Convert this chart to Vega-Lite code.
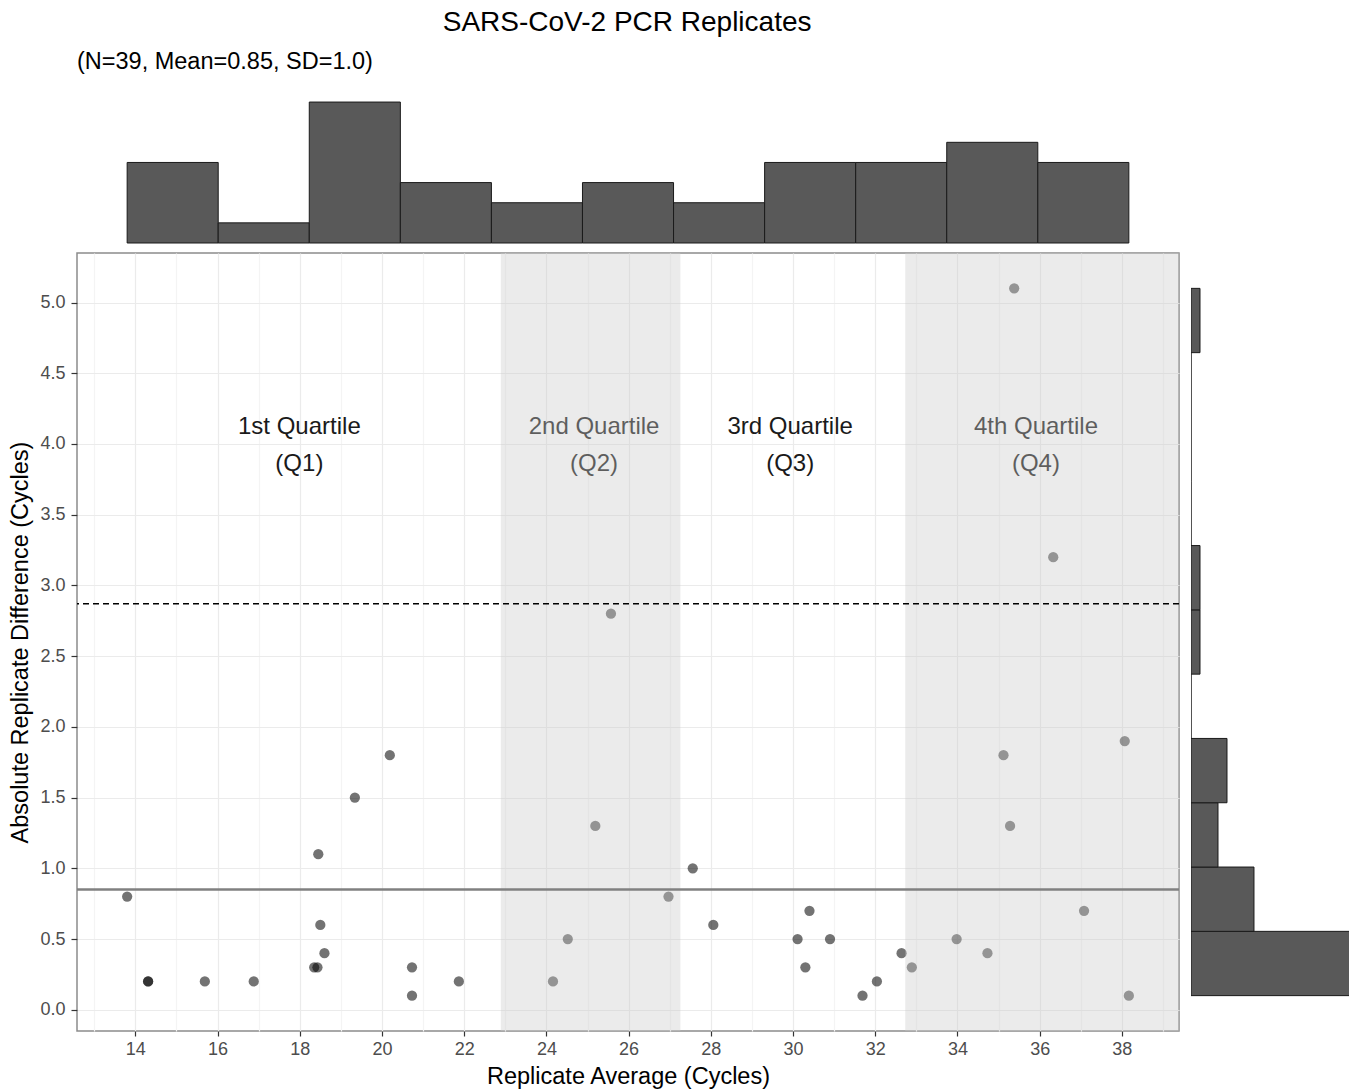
{
  "$schema": "https://vega.github.io/schema/vega-lite/v6.json",
  "padding": {"left": 7, "top": 8, "right": 0, "bottom": 0},
  "background": "white",
  "title": {"text": "SARS-CoV-2 PCR Replicates", "anchor": "middle", "fontSize": 28, "fontWeight": "normal", "color": "#000000", "offset": 13, "dx": -51},
  "config": {
    "font": "Liberation Sans",
    "view": {"stroke": null},
    "title": {"font": "Liberation Sans", "fontWeight": "normal", "color": "#000000"},
    "axis": {"labelFont": "Liberation Sans", "titleFont": "Liberation Sans", "titleFontWeight": "normal"}
  },
  "datasets": {
    "points": [
      {"x": 13.8, "y": 0.8}, {"x": 14.31, "y": 0.2}, {"x": 14.31, "y": 0.2}, {"x": 15.69, "y": 0.2},
      {"x": 16.88, "y": 0.2}, {"x": 18.35, "y": 0.3}, {"x": 18.43, "y": 0.3}, {"x": 18.45, "y": 1.1},
      {"x": 18.5, "y": 0.6}, {"x": 18.6, "y": 0.4}, {"x": 19.34, "y": 1.5}, {"x": 20.19, "y": 1.8},
      {"x": 20.73, "y": 0.3}, {"x": 20.73, "y": 0.1}, {"x": 21.87, "y": 0.2}, {"x": 24.16, "y": 0.2},
      {"x": 24.52, "y": 0.5}, {"x": 25.19, "y": 1.3}, {"x": 25.57, "y": 2.8}, {"x": 26.97, "y": 0.8},
      {"x": 27.56, "y": 1.0}, {"x": 28.06, "y": 0.6}, {"x": 30.11, "y": 0.5}, {"x": 30.3, "y": 0.3},
      {"x": 30.4, "y": 0.7}, {"x": 30.9, "y": 0.5}, {"x": 31.69, "y": 0.1}, {"x": 32.04, "y": 0.2},
      {"x": 32.64, "y": 0.4}, {"x": 32.89, "y": 0.3}, {"x": 33.98, "y": 0.5}, {"x": 34.73, "y": 0.4},
      {"x": 35.12, "y": 1.8}, {"x": 35.28, "y": 1.3}, {"x": 35.38, "y": 5.1}, {"x": 36.33, "y": 3.2},
      {"x": 37.08, "y": 0.7}, {"x": 38.07, "y": 1.9}, {"x": 38.17, "y": 0.1}
    ],
    "topHist": [
      {"bin_start": 13.8, "bin_end": 16.0155, "count": 4},
      {"bin_start": 16.0155, "bin_end": 18.231, "count": 1},
      {"bin_start": 18.231, "bin_end": 20.4465, "count": 7},
      {"bin_start": 20.4465, "bin_end": 22.662, "count": 3},
      {"bin_start": 22.662, "bin_end": 24.8775, "count": 2},
      {"bin_start": 24.8775, "bin_end": 27.093, "count": 3},
      {"bin_start": 27.093, "bin_end": 29.3085, "count": 2},
      {"bin_start": 29.3085, "bin_end": 31.524, "count": 4},
      {"bin_start": 31.524, "bin_end": 33.7395, "count": 4},
      {"bin_start": 33.7395, "bin_end": 35.955, "count": 5},
      {"bin_start": 35.955, "bin_end": 38.17, "count": 4}
    ],
    "rightHist": [
      {"bin_start": 0.1, "bin_end": 0.5545, "count": 22},
      {"bin_start": 0.5545, "bin_end": 1.0091, "count": 7},
      {"bin_start": 1.0091, "bin_end": 1.4636, "count": 3},
      {"bin_start": 1.4636, "bin_end": 1.9182, "count": 4},
      {"bin_start": 1.9182, "bin_end": 2.3727, "count": 0},
      {"bin_start": 2.3727, "bin_end": 2.8273, "count": 1},
      {"bin_start": 2.8273, "bin_end": 3.2818, "count": 1},
      {"bin_start": 3.2818, "bin_end": 3.7364, "count": 0},
      {"bin_start": 3.7364, "bin_end": 4.1909, "count": 0},
      {"bin_start": 4.1909, "bin_end": 4.6455, "count": 0},
      {"bin_start": 4.6455, "bin_end": 5.1, "count": 1}
    ],
    "quartileBands": [
      {"band": "Q2", "x": 22.89, "x2": 27.26},
      {"band": "Q4", "x": 32.73, "x2": 39.39}
    ],
    "quartileLabels": [
      {"quartile": "Q1", "x": 17.99, "y": 4.0, "label": "1st Quartile\n(Q1)"},
      {"quartile": "Q2", "x": 25.16, "y": 4.0, "label": "2nd Quartile\n(Q2)"},
      {"quartile": "Q3", "x": 29.93, "y": 4.0, "label": "3rd Quartile\n(Q3)"},
      {"quartile": "Q4", "x": 35.91, "y": 4.0, "label": "4th Quartile\n(Q4)"}
    ],
    "refLines": [
      {"stat": "Mean", "y": 0.85},
      {"stat": "Mean + 2SD", "y": 2.87}
    ]
  },
  "columns": 2,
  "align": "each",
  "spacing": {"row": 8, "column": 10},
  "resolve": {"scale": {"x": "independent", "y": "independent"}, "axis": {"x": "independent", "y": "independent"}},
  "concat": [
    {
      "data": {"name": "topHist"},
      "width": 1102,
      "height": 148,
      "title": {"text": "(N=39, Mean=0.85, SD=1.0)", "anchor": "start", "frame": "group", "fontSize": 23.5, "offset": 22},
      "view": {"stroke": null},
      "mark": {"type": "rect", "fill": "#595959", "stroke": "#1a1a1a", "strokeWidth": 1},
      "encoding": {
        "x": {"field": "bin_start", "type": "quantitative", "scale": {"domain": [12.58, 39.39], "nice": false, "zero": false}, "axis": null},
        "x2": {"field": "bin_end"},
        "y": {"field": "count", "type": "quantitative", "scale": {"domain": [0, 7.35], "nice": false},
              "axis": {"title": null, "labels": false, "domain": false, "grid": false, "tickSize": 68, "tickColor": "transparent", "values": [0]}},
        "y2": {"datum": 0}
      }
    },
    {
      "data": {"values": []},
      "width": 158,
      "height": 148,
      "view": {"stroke": null},
      "mark": {"type": "point"},
      "encoding": {}
    },
    {
      "width": 1102,
      "height": 778,
      "view": {"stroke": "#8c8c8c", "strokeWidth": 1.5},
      "layer": [
        {
          "data": {"name": "quartileLabels"},
          "mark": {"type": "text", "fontSize": 24, "lineBreak": "\n", "lineHeight": 37, "color": "#1a1a1a", "baseline": "middle", "align": "center", "dy": -17},
          "encoding": {
            "x": {"field": "x", "type": "quantitative", "title": "Replicate Average (Cycles)",
                  "scale": {"domain": [12.58, 39.39], "nice": false, "zero": false},
                  "axis": {
                    "values": [13, 14, 15, 16, 17, 18, 19, 20, 21, 22, 23, 24, 25, 26, 27, 28, 29, 30, 31, 32, 33, 34, 35, 36, 37, 38, 39],
                    "labelExpr": "datum.value % 2 == 0 ? datum.label : ''",
                    "gridColor": {"condition": {"test": "datum.value % 2 == 0", "value": "#ebebeb"}, "value": "#f4f4f4"},
                    "gridWidth": 1.2,
                    "tickColor": {"condition": {"test": "datum.value % 2 == 0", "value": "#333333"}, "value": "transparent"},
                    "tickSize": 5, "tickWidth": 1.2, "domain": false, "labelOverlap": false, "labelFlush": false,
                    "labelFontSize": 18, "labelColor": "#4d4d4d", "labelPadding": 4,
                    "titleFontSize": 23.5, "titleColor": "#000000", "titlePadding": 6
                  }},
            "y": {"field": "y", "type": "quantitative", "title": "Absolute Replicate Difference (Cycles)",
                  "scale": {"domain": [-0.15, 5.35], "nice": false, "zero": false},
                  "axis": {
                    "values": [0, 0.25, 0.5, 0.75, 1, 1.25, 1.5, 1.75, 2, 2.25, 2.5, 2.75, 3, 3.25, 3.5, 3.75, 4, 4.25, 4.5, 4.75, 5, 5.25],
                    "labelExpr": "abs(datum.value * 2 - round(datum.value * 2)) < 0.001 ? format(datum.value, '.1f') : ''",
                    "gridColor": {"condition": {"test": "abs(datum.value * 2 - round(datum.value * 2)) < 0.001", "value": "#ebebeb"}, "value": "#f4f4f4"},
                    "gridWidth": 1.2,
                    "tickColor": {"condition": {"test": "abs(datum.value * 2 - round(datum.value * 2)) < 0.001", "value": "#333333"}, "value": "transparent"},
                    "tickSize": 6, "tickWidth": 1.2, "domain": false, "labelOverlap": false, "labelFlush": false,
                    "labelFontSize": 18, "labelColor": "#4d4d4d", "labelPadding": 6,
                    "minExtent": 37, "maxExtent": 37,
                    "titleFontSize": 23.5, "titleColor": "#000000", "titlePadding": 8
                  }},
            "text": {"field": "label"}
          }
        },
        {
          "data": {"name": "points"},
          "mark": {"type": "circle", "size": 105, "color": "#000000", "opacity": 0.55},
          "encoding": {
            "x": {"field": "x", "type": "quantitative", "title": "Replicate Average (Cycles)"},
            "y": {"field": "y", "type": "quantitative", "title": "Absolute Replicate Difference (Cycles)"}
          }
        },
        {
          "data": {"name": "quartileBands"},
          "mark": {"type": "rect", "fill": "#cbcbcb", "opacity": 0.38, "clip": true},
          "encoding": {
            "x": {"field": "x", "type": "quantitative", "title": "Replicate Average (Cycles)"},
            "x2": {"field": "x2"},
            "y": {"datum": -0.15, "type": "quantitative", "title": "Absolute Replicate Difference (Cycles)"},
            "y2": {"datum": 5.35}
          }
        },
        {
          "data": {"name": "refLines"},
          "transform": [{"filter": "datum.stat == 'Mean'"}],
          "mark": {"type": "rule", "color": "#808080", "strokeWidth": 2.5},
          "encoding": {
            "y": {"field": "y", "type": "quantitative", "title": "Absolute Replicate Difference (Cycles)"}
          }
        },
        {
          "data": {"name": "refLines"},
          "transform": [{"filter": "datum.stat == 'Mean + 2SD'"}],
          "mark": {"type": "rule", "color": "#000000", "strokeWidth": 1.5, "strokeDash": [6, 4]},
          "encoding": {
            "y": {"field": "y", "type": "quantitative", "title": "Absolute Replicate Difference (Cycles)"}
          }
        }
      ]
    },
    {
      "data": {"name": "rightHist"},
      "width": 158,
      "height": 778,
      "view": {"stroke": null},
      "mark": {"type": "rect", "fill": "#595959", "stroke": "#1a1a1a", "strokeWidth": 1, "clip": true},
      "encoding": {
        "y": {"field": "bin_start", "type": "quantitative", "scale": {"domain": [-0.15, 5.35], "nice": false, "zero": false}, "axis": null},
        "y2": {"field": "bin_end"},
        "x": {"field": "count", "type": "quantitative", "scale": {"domain": [0, 17.56], "nice": false}, "axis": null},
        "x2": {"datum": 0}
      }
    }
  ]
}
